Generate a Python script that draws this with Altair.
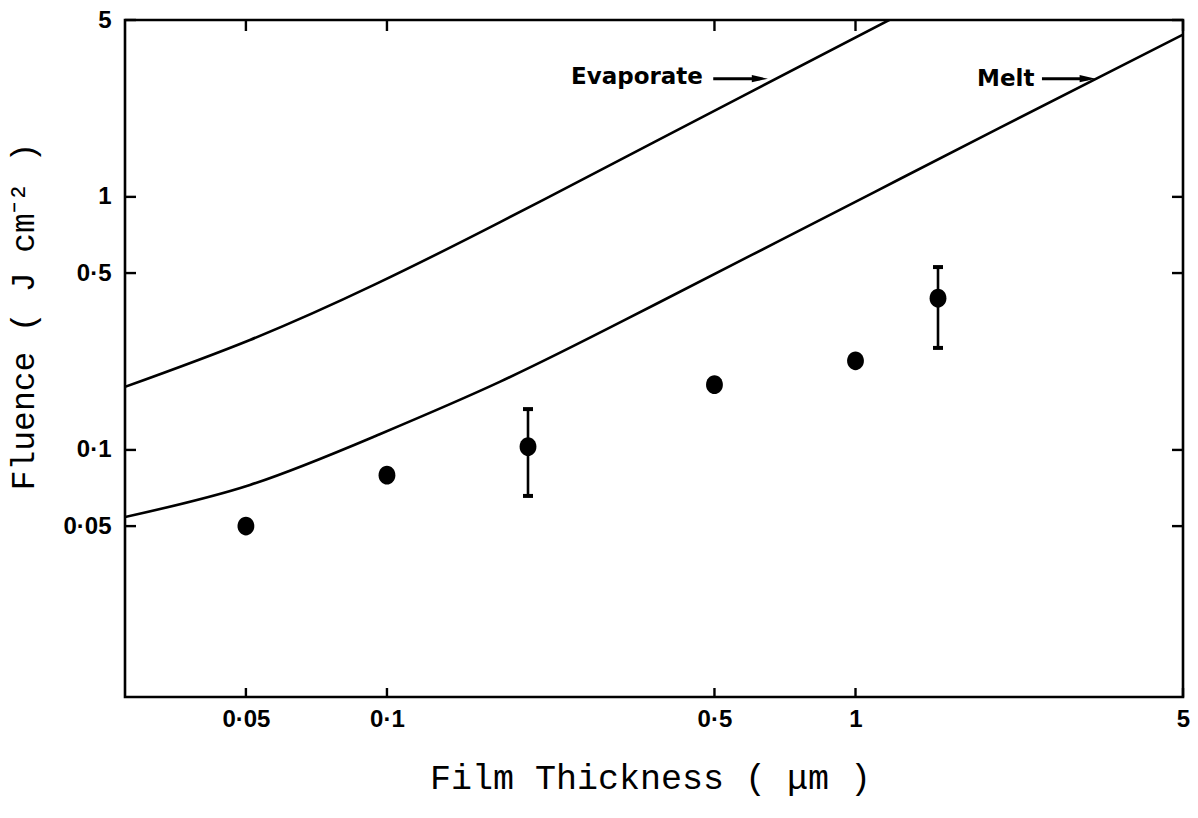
import altair as alt
import pandas as pd

# Threshold curves (film thickness in µm, fluence in J cm^-2)
evap_x = [0.0276, 0.051, 0.0943, 0.174, 0.322, 0.595, 1.185]
evap_y = [0.1775, 0.272, 0.451, 0.793, 1.433, 2.59, 5.02]
melt_x = [0.0276, 0.051, 0.0943, 0.174, 0.322, 0.595, 1.10, 2.03, 5.0]
melt_y = [0.0543, 0.0727, 0.1133, 0.1857, 0.3264, 0.5844, 1.047, 1.874, 4.38]

# Measured damage thresholds
meas_x = [0.05, 0.1, 0.2, 0.5, 1.0, 1.5]
meas_y = [0.050, 0.0795, 0.103, 0.181, 0.225, 0.398]

# Error bars
err_x = [0.2, 1.5]
err_lo = [0.0658, 0.253]
err_hi = [0.145, 0.528]

# Axis ticks
x_ticks = [0.05, 0.1, 0.5, 1, 5]
y_ticks = [0.05, 0.1, 0.5, 1, 5]

# Curve labels with their arrows
label_text = ["Evaporate", "Melt"]
label_x = [0.4725, 2.41]
label_y = [2.98, 2.93]
arrow_x1 = [0.497, 2.50]
arrow_x2 = [0.625, 3.13]
arrow_y = [2.93, 2.93]

X_DOMAIN = [0.0276, 5]
Y_DOMAIN = [0.01056, 5]
W, H = 1058, 677

curves = pd.DataFrame(
    {"x": evap_x + melt_x, "y": evap_y + melt_y,
     "curve": ["Evaporate"] * len(evap_x) + ["Melt"] * len(melt_x)}
)
meas = pd.DataFrame({"x": meas_x, "y": meas_y})
errs = pd.DataFrame({"x": err_x, "lo": err_lo, "hi": err_hi})
xt = pd.DataFrame({"v": x_ticks})
yt = pd.DataFrame({"v": y_ticks})
labels = pd.DataFrame({"text": label_text, "x": label_x, "y": label_y})
arrows = pd.DataFrame({"x1": arrow_x1, "x2": arrow_x2, "y": arrow_y})

tick_font = "Liberation Sans"
label_expr = "replace(toString(datum.value), '.', '·')"

xscale = alt.Scale(type="log", domain=X_DOMAIN, nice=False, zero=False)
yscale = alt.Scale(type="log", domain=Y_DOMAIN, nice=False, zero=False)

x_axis = alt.Axis(
    values=x_ticks, labelExpr=label_expr, ticks=False, domain=False, grid=False,
    labelFont=tick_font, labelFontSize=24, labelFontWeight="bold", labelColor="black",
    labelPadding=10, labelFlush=False, labelOverlap=False,
    title="Film Thickness ( μm )", titleFont="Liberation Mono", titleFontSize=35,
    titleFontWeight="normal", titleColor="black", titleBaseline="middle", titleY=80,
    titleX=525,
)
y_axis = alt.Axis(
    values=y_ticks, labelExpr=label_expr, ticks=False, domain=False, grid=False,
    labelFont=tick_font, labelFontSize=24, labelFontWeight="bold", labelColor="black",
    labelPadding=14, labelFlush=False, labelOverlap=False,
    title="Fluence ( J cm⁻² )", titleFont="Liberation Mono", titleFontSize=33,
    titleFontWeight="normal", titleColor="black", titleAngle=270,
    titleAlign="center", titleBaseline="middle", titleX=-102, titleY=296,
)

base_x = alt.X("x:Q", scale=xscale, axis=x_axis)
base_y = alt.Y("y:Q", scale=yscale, axis=y_axis)

lines = alt.Chart(curves).mark_line(
    color="black", strokeWidth=2.6, interpolate="natural", clip=True
).encode(x=base_x, y=base_y, detail="curve:N")

bars = alt.Chart(errs).mark_rule(color="black", strokeWidth=2.6).encode(
    x=alt.X("x:Q", scale=xscale), y=alt.Y("lo:Q", scale=yscale), y2="hi:Q"
)
caps_lo = alt.Chart(errs).mark_point(
    shape="stroke", size=100, color="black", strokeWidth=4, filled=False, opacity=1
).encode(x=alt.X("x:Q", scale=xscale), y=alt.Y("lo:Q", scale=yscale))
caps_hi = alt.Chart(errs).mark_point(
    shape="stroke", size=100, color="black", strokeWidth=4, filled=False, opacity=1
).encode(x=alt.X("x:Q", scale=xscale), y=alt.Y("hi:Q", scale=yscale))

dots = alt.Chart(meas).mark_point(
    shape="M -0.9 0 A 0.9 1 0 1 1 0.9 0 A 0.9 1 0 1 1 -0.9 0 Z",
    size=350, filled=True, color="black", opacity=1,
).encode(x=alt.X("x:Q", scale=xscale), y=alt.Y("y:Q", scale=yscale))

# Inward-pointing ticks on all four sides of the frame
TL = 11
ticks_bottom = alt.Chart(xt).mark_rule(color="black", strokeWidth=2.4).encode(
    x=alt.X("v:Q", scale=xscale), y=alt.value(H - 9), y2=alt.value(H)
)
ticks_top = alt.Chart(xt).mark_rule(color="black", strokeWidth=2.4).encode(
    x=alt.X("v:Q", scale=xscale), y=alt.value(0), y2=alt.value(TL)
)
ticks_left = alt.Chart(yt).mark_rule(color="black", strokeWidth=2.4).encode(
    y=alt.Y("v:Q", scale=yscale), x=alt.value(0), x2=alt.value(TL)
)
ticks_right = alt.Chart(yt).mark_rule(color="black", strokeWidth=2.4).encode(
    y=alt.Y("v:Q", scale=yscale), x=alt.value(W - TL), x2=alt.value(W)
)

texts = alt.Chart(labels).mark_text(
    align="right", baseline="middle", font="DejaVu Sans", fontSize=23,
    fontWeight="bold", color="black",
).encode(x=alt.X("x:Q", scale=xscale), y=alt.Y("y:Q", scale=yscale), text="text:N")

arrow_shafts = alt.Chart(arrows).mark_rule(color="black", strokeWidth=3.2).encode(
    x=alt.X("x1:Q", scale=xscale), x2="x2:Q", y=alt.Y("y:Q", scale=yscale)
)
arrow_heads = alt.Chart(arrows).mark_point(
    shape="M -1 -0.45 L 1 0 L -1 0.45 Z", size=260, filled=True, color="black", opacity=1
).encode(x=alt.X("x2:Q", scale=xscale), y=alt.Y("y:Q", scale=yscale))

chart = alt.layer(
    lines, bars, caps_lo, caps_hi, dots,
    ticks_bottom, ticks_top, ticks_left, ticks_right,
    texts, arrow_shafts, arrow_heads,
).properties(
    width=W, height=H,
    autosize=alt.AutoSizeParams(type="none"),
    padding={"left": 125, "top": 20, "right": 15, "bottom": 121},
    background="white",
).configure_view(
    stroke="black", strokeWidth=2.6
)

chart.save("out.html", embed_options={"renderer": "svg", "actions": False})
